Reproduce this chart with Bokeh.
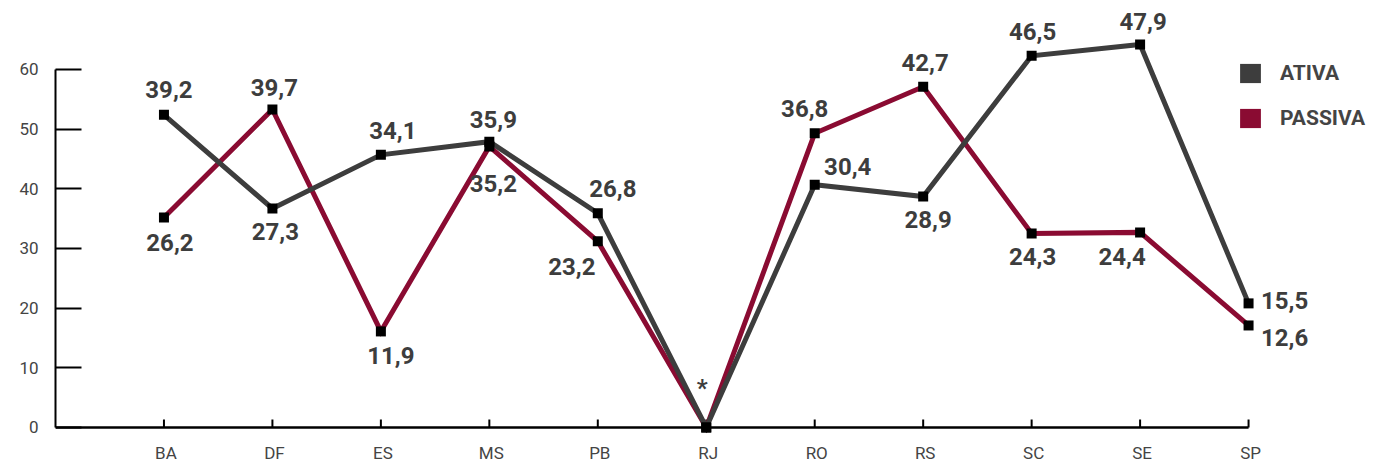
from bokeh.plotting import figure
from bokeh.models import (ColumnDataSource, Range1d, FixedTicker, Legend, LegendItem)
from bokeh.core.properties import value
from bokeh.embed import file_html
from bokeh.resources import INLINE

# ---- data ----
categories = ["BA", "DF", "ES", "MS", "PB", "RJ", "RO", "RS", "SC", "SE", "SP"]
ativa = [52.4, 36.7, 45.7, 47.9, 35.9, 0.0, 40.7, 38.7, 62.3, 64.2, 20.8]
passiva = [35.2, 53.3, 16.1, 47.1, 31.2, 0.0, 49.3, 57.1, 32.5, 32.7, 17.1]
ativa_labels = ["39,2", "27,3", "34,1", "35,9", "26,8", "*", "30,4", "28,9", "46,5", "47,9", "15,5"]
passiva_labels = ["26,2", "39,7", "11,9", "35,2", "23,2", "", "36,8", "42,7", "24,3", "24,4", "12,6"]
y_ticks = [0, 10, 20, 30, 40, 50, 60]

# label offsets in screen pixels (styling)
ativa_dx = [5, 3, 12, 4, 15, -4, 33, 5, 1, 3, 36]
ativa_dy = [-25, 23, -24, -22, -25, -39, -18, 23, -24, -23, -3]
passiva_dx = [6, 2, 10, 4, -26, 0, -10, 2, 1, -18, 36]
passiva_dy = [25, -22, 24, 37, 25, 0, -25, -24, 23, 24, 12]

ATIVA_COLOR = "#3d3d3d"
PASSIVA_COLOR = "#8a0b32"
TEXT_COLOR = "#3d3d3d"
FONT = "Roboto"
PX_PER_UNIT = 5.967

idx = list(range(len(categories)))

p = figure(width=1373, height=466, output_backend="svg", toolbar_location=None,
           x_range=Range1d(-1, 11.152), y_range=Range1d(-6.536, 71.56),
           min_border_left=55, min_border_right=0, min_border_top=0, min_border_bottom=0)
p.outline_line_color = None
p.grid.visible = False
p.background_fill_color = "white"
p.xaxis.visible = False

# y axis
ya = p.yaxis[0]
ya.ticker = FixedTicker(ticks=y_ticks)
ya.bounds = (0, 60)
ya.axis_line_color = "black"
ya.axis_line_width = 2
ya.major_tick_line_color = "black"
ya.major_tick_line_width = 2
ya.major_tick_in = 26
ya.major_tick_out = 0
ya.minor_tick_line_color = None
ya.major_label_standoff = 17
ya.major_label_text_font = FONT
ya.major_label_text_font_size = "17px"
ya.major_label_text_color = "#444444"

# baseline at y=0, category ticks and category labels
p.segment(x0=[-1], y0=[0], x1=[idx[-1]], y1=[0], line_color="black", line_width=2.5)
tick_len = 8 / PX_PER_UNIT
p.segment(x0=idx, y0=[0] * len(idx), x1=idx, y1=[tick_len] * len(idx),
          line_color="black", line_width=2)
p.text(x=idx, y=[0] * len(idx), text=categories, x_offset=2, y_offset=26,
       text_align="center", text_baseline="middle", text_font=value(FONT),
       text_font_size="17px", text_color="#444444")

src = ColumnDataSource(dict(x=idx, ativa=ativa, passiva=passiva,
                            al=ativa_labels, pl=passiva_labels,
                            adx=ativa_dx, ady=ativa_dy, pdx=passiva_dx, pdy=passiva_dy))

p.line("x", "passiva", source=src, line_color=PASSIVA_COLOR, line_width=5, line_join="miter")
p.line("x", "ativa", source=src, line_color=ATIVA_COLOR, line_width=5, line_join="miter")
p.scatter("x", "passiva", source=src, marker="square", size=10, fill_color="black", line_color=None)
p.scatter("x", "ativa", source=src, marker="square", size=10, fill_color="black", line_color=None)

p.text("x", "ativa", text="al", source=src, x_offset="adx", y_offset="ady",
       text_align="center", text_baseline="middle", text_font=value(FONT),
       text_font_style="bold", text_font_size="24px", text_color=TEXT_COLOR)
p.text("x", "passiva", text="pl", source=src, x_offset="pdx", y_offset="pdy",
       text_align="center", text_baseline="middle", text_font=value(FONT),
       text_font_style="bold", text_font_size="24px", text_color=TEXT_COLOR)

# legend with square swatches (renderers hold no drawable data)
nan = float("nan")
r_a = p.quad(top=[nan], bottom=[nan], left=[nan], right=[nan], fill_color=ATIVA_COLOR, line_color=None)
r_p = p.quad(top=[nan], bottom=[nan], left=[nan], right=[nan], fill_color=PASSIVA_COLOR, line_color=None)
legend = Legend(items=[LegendItem(label="ATIVA", renderers=[r_a]),
                       LegendItem(label="PASSIVA", renderers=[r_p])],
                location=(1182, 336), orientation="vertical",
                glyph_width=26, glyph_height=24, label_height=24, spacing=21,
                label_standoff=17, padding=0, margin=0,
                border_line_color=None, background_fill_alpha=0,
                label_text_font=FONT, label_text_font_style="bold",
                label_text_font_size="21px", label_text_color="#444444")
p.add_layout(legend, "center")

open("out.html", "w").write(file_html(p, INLINE))
